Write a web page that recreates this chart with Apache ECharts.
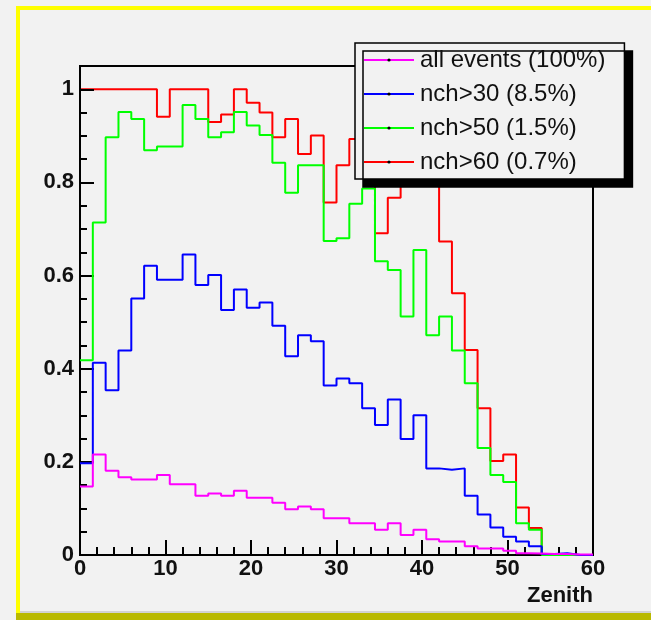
<!DOCTYPE html>
<html>
<head>
<meta charset="utf-8">
<script src="https://cdn.jsdelivr.net/npm/echarts@6/dist/echarts.min.js"></script>
<style>
  html, body { margin: 0; padding: 0; background: #f2f2f2; }
  #chart { width: 651px; height: 620px; }
</style>
</head>
<body>
<div id="chart"></div>
<script>
// Zenith histograms: 40 bins of 1.5 deg starting at 0
const binStart = 0;
const binWidth = 1.5;

const seriesNames = ['all events (100%)', 'nch>30 (8.5%)', 'nch>50 (1.5%)', 'nch>60 (0.7%)'];
const seriesColors = ['#ff00ff', '#0000ff', '#00ff00', '#ff0000'];

const allEvents = [
  0.147, 0.216, 0.181, 0.167, 0.162, 0.162, 0.172, 0.152, 0.152, 0.127,
  0.132, 0.127, 0.138, 0.123, 0.123, 0.112, 0.098, 0.104, 0.098, 0.079,
  0.079, 0.068, 0.068, 0.054, 0.068, 0.043, 0.054, 0.034, 0.029, 0.029,
  0.019, 0.014, 0.014, 0.009, 0.004, 0.003, 0.002, 0.002, 0.001, 0.001
];
const nch30 = [
  0.197, 0.413, 0.354, 0.439, 0.551, 0.621, 0.591, 0.591, 0.645, 0.580,
  0.601, 0.526, 0.570, 0.531, 0.542, 0.492, 0.427, 0.472, 0.459, 0.364,
  0.379, 0.369, 0.315, 0.279, 0.334, 0.249, 0.300, 0.186, 0.183, 0.186,
  0.127, 0.087, 0.059, 0.039, 0.029, 0.019, 0.002, 0.004, 0.0, 0.0
];
const nch50 = [
  0.418, 0.714, 0.897, 0.951, 0.936, 0.869, 0.877, 0.877, 0.966, 0.936,
  0.897, 0.908, 0.951, 0.922, 0.902, 0.842, 0.778, 0.837, 0.837, 0.674,
  0.680, 0.754, 0.787, 0.631, 0.612, 0.512, 0.655, 0.472, 0.512, 0.439,
  0.369, 0.230, 0.172, 0.157, 0.068, 0.054, 0.0, 0.0, 0.0, 0.0
];
const nch60 = [
  1.0, 1.0, 1.0, 1.0, 1.0, 1.0, 0.941, 1.0, 1.0, 1.0,
  0.930, 0.946, 1.0, 0.971, 0.950, 0.897, 0.936, 0.861, 0.901, 0.757,
  0.837, 0.893, 0.88, 0.691, 0.767, 0.86, 0.92, 0.85, 0.673, 0.562,
  0.440, 0.315, 0.202, 0.216, 0.102, 0.058, 0.0, 0.0, 0.0, 0.0
];

const xTicks = [0, 10, 20, 30, 40, 50, 60];
const yTicks = [0, 0.2, 0.4, 0.6, 0.8, 1];

// Turn bin contents into step points at the bin low edges, closing at the last high edge
function toSteps(values) {
  const pts = values.map((v, i) => [binStart + i * binWidth, v]);
  pts.push([binStart + values.length * binWidth, values[values.length - 1]]);
  return pts;
}

const labelFont = { fontFamily: 'Liberation Sans', fontWeight: 'bold', fontSize: 22, color: '#111' };

const dataSets = [allEvents, nch30, nch50, nch60];
// the first-drawn histogram sits under the axes, the others above them
const zOrder = [5, 4, 3, 1];

const chart = echarts.init(document.getElementById('chart'), null, { renderer: 'canvas' });

chart.setOption({
  animation: false,
  backgroundColor: '#f2f2f2',
  graphic: [
    { type: 'rect', z: 0, shape: { x: 16, y: 6, width: 635, height: 4 }, style: { fill: '#ffff00' } },
    { type: 'rect', z: 0, shape: { x: 16, y: 6, width: 4, height: 613 }, style: { fill: '#ffff00' } },
    { type: 'rect', z: 0, shape: { x: 20, y: 611, width: 631, height: 2 }, style: { fill: '#d2d2d2' } },
    { type: 'rect', z: 0, shape: { x: 16, y: 613, width: 635, height: 7 }, style: { fill: '#b9b900' } }
  ],
  grid: {
    left: 80, right: 58, top: 66, bottom: 65,
    show: true, borderColor: '#000', borderWidth: 2, backgroundColor: 'transparent',
    containLabel: false, outerBoundsMode: 'none'
  },
  legend: {
    z: 10,
    orient: 'vertical',
    left: 355, top: 43,
    padding: [5, 19, 5, 8],
    itemGap: 10,
    itemWidth: 50,
    itemHeight: 4,
    backgroundColor: '#f2f2f2',
    borderColor: '#000',
    borderWidth: 1.5,
    shadowColor: '#000',
    shadowBlur: 0,
    shadowOffsetX: 8,
    shadowOffsetY: 8,
    itemStyle: { color: '#000', borderWidth: 0 },
    textStyle: { fontFamily: 'Liberation Sans', fontSize: 24, color: '#111', padding: [0, 0, 0, 1] },
    data: seriesNames
  },
  xAxis: {
    type: 'value',
    z: 2,
    min: xTicks[0], max: xTicks[xTicks.length - 1], interval: 10,
    name: 'Zenith',
    nameLocation: 'end',
    nameGap: 0,
    nameTextStyle: Object.assign({}, labelFont, { align: 'right', verticalAlign: 'top', padding: [30, 0, 0, 0] }),
    axisLine: { show: true, onZero: false, lineStyle: { color: '#000', width: 2 } },
    axisTick: { show: true, inside: true, length: 15, lineStyle: { color: '#000', width: 2 } },
    minorTick: { show: true, splitNumber: 5, length: 8, lineStyle: { color: '#000', width: 2 } },
    axisLabel: Object.assign({}, labelFont, { margin: 3 }),
    splitLine: { show: false }
  },
  yAxis: [
    {
      type: 'value',
      z: 2,
      position: 'left',
      min: 0, max: 1.05, interval: 0.2,
      axisLine: { show: true, onZero: false, lineStyle: { color: '#000', width: 2 } },
      axisTick: { show: true, inside: true, length: 14, lineStyle: { color: '#000', width: 2 } },
      axisLabel: Object.assign({}, labelFont, {
        margin: 6,
        formatter: v => yTicks.some(t => Math.abs(t - v) < 1e-6) ? String(+v.toFixed(1)) : ''
      }),
      splitLine: { show: false }
    },
    {
      type: 'value',
      z: 2,
      position: 'left',
      min: 0, max: 1.05, interval: 0.05,
      axisLine: { show: false },
      axisTick: { show: true, inside: true, length: 7, lineStyle: { color: '#000', width: 2 } },
      axisLabel: { show: false },
      splitLine: { show: false }
    }
  ],
  series: dataSets.map((vals, k) => ({
    name: seriesNames[k],
    type: 'line',
    step: 'end',
    z: zOrder[k],
    yAxisIndex: 0,
    symbol: 'circle',
    symbolSize: 3,
    showSymbol: false,
    silent: true,
    lineStyle: { color: seriesColors[k], width: 2 },
    itemStyle: { color: seriesColors[k] },
    data: toSteps(vals)
  }))
});
</script>
</body>
</html>
